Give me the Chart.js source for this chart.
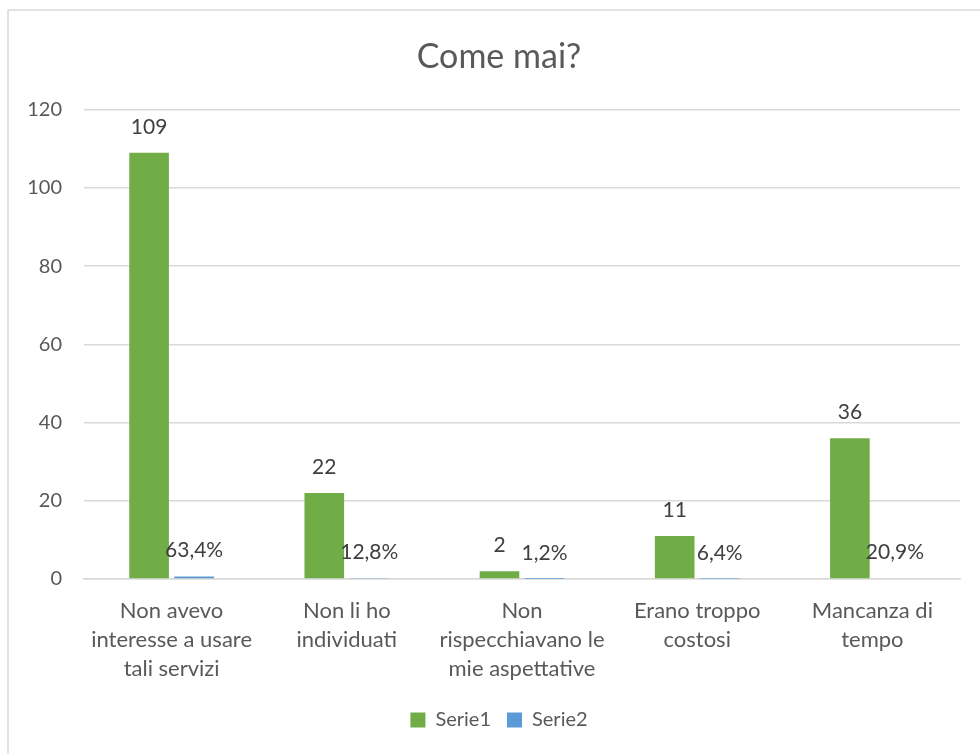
<!DOCTYPE html>
<html>
<head>
<meta charset="utf-8">
<script src="https://cdn.jsdelivr.net/npm/chart.js@4.4.1/dist/chart.umd.min.js"></script>
<style>
  html, body { margin: 0; padding: 0; background: #fff; }
  #wrap { position: relative; width: 980px; height: 754px; }
</style>
</head>
<body>
<div id="wrap"><canvas id="DataChart"></canvas></div>
<script>
// data
const categories = [
  ["Non avevo", "interesse a usare", "tali servizi"],
  ["Non li ho", "individuati"],
  ["Non", "rispecchiavano le", "mie aspettative"],
  ["Erano troppo", "costosi"],
  ["Mancanza di", "tempo"]
];
const serie1 = [109, 22, 2, 11, 36];
const serie2 = [0.634, 0.128, 0.012, 0.064, 0.209];
const yTicks = [0, 20, 40, 60, 80, 100, 120];

const FONT = "Lato, 'Open Sans', sans-serif";
const GREY = "#595959";

// frame around the chart
const frame = {
  id: 'frame',
  beforeDraw: (chart) => {
    const ctx = chart.ctx;
    ctx.save();
    ctx.fillStyle = '#fff';
    ctx.fillRect(0, 0, chart.width, chart.height);
    ctx.strokeStyle = '#d9d9d9';
    ctx.lineWidth = 1.5;
    ctx.strokeRect(8, 10, 1000, 800);
    ctx.restore();
  }
};

// title and legend are centred a bit right of the canvas centre in the original
const nudge = {
  id: 'nudge',
  afterLayout: (chart) => {
    if (chart.titleBlock) chart.titleBlock.left += 38;
    if (chart.legend) chart.legend.left += 38;
  }
};

// value labels above the bars
const valueLabels = {
  id: 'valueLabels',
  afterDatasetsDraw: (chart) => {
    const ctx = chart.ctx;
    ctx.save();
    ctx.font = "21px " + FONT;
    ctx.fillStyle = "#404040";
    ctx.textAlign = 'center';
    ctx.textBaseline = 'middle';
    chart.data.datasets.forEach((ds, i) => {
      const meta = chart.getDatasetMeta(i);
      meta.data.forEach((bar, j) => {
        let txt;
        if (i === 0) txt = String(ds.data[j]);
        else txt = (ds.data[j] * 100).toFixed(1).replace('.', ',') + '%';
        ctx.fillText(txt, bar.x, bar.y - 26);
      });
    });
    ctx.restore();
  }
};

const canvas = document.getElementById('DataChart');
new Chart(canvas, {
  type: 'bar',
  data: {
    labels: categories,
    datasets: [
      { label: 'Serie1', data: serie1, backgroundColor: '#70AD47',
        barPercentage: 0.88, categoryPercentage: 0.514 },
      { label: 'Serie2', data: serie2, backgroundColor: '#5B9BD5',
        barPercentage: 0.88, categoryPercentage: 0.514 }
    ]
  },
  options: {
    responsive: true,
    maintainAspectRatio: false,
    animation: false,
    layout: { padding: { left: 0, right: 20, top: 0, bottom: 14 } },
    scales: {
      x: {
        grid: { display: false, drawTicks: false },
        border: { display: true, color: '#d9d9d9', width: 1.5 },
        ticks: {
          color: GREY, font: { family: FONT, size: 22, lineHeight: 1.33 },
          maxRotation: 0, autoSkip: false, padding: 17
        },
        afterFit: (s) => { s.height = 115; }
      },
      y: {
        min: 0, max: 120,
        afterBuildTicks: (s) => { s.ticks = yTicks.map(v => ({ value: v })); },
        grid: { color: '#d9d9d9', lineWidth: 1.5, drawTicks: false },
        border: { display: false },
        ticks: { color: GREY, font: { family: FONT, size: 20 }, padding: 22 },
        afterFit: (s) => { s.width = 84; }
      }
    },
    plugins: {
      title: {
        display: true, text: 'Come mai?', color: GREY,
        font: { family: FONT, size: 34, weight: 'normal' },
        padding: { top: 37, bottom: 32 }
      },
      legend: {
        position: 'bottom',
        labels: {
          color: GREY, font: { family: FONT, size: 20 },
          boxWidth: 15, boxHeight: 15, padding: 16
        }
      },
      tooltip: { enabled: false }
    }
  },
  plugins: [frame, nudge, valueLabels]
});
</script>
</body>
</html>
